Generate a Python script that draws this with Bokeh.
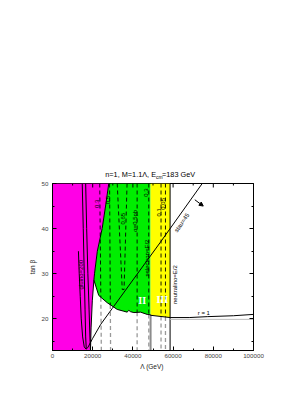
import math
import numpy as np
from bokeh.plotting import figure
from bokeh.layouts import column
from bokeh.models import (Range1d, LinearAxis, FixedTicker, Label, Arrow,
                          NormalHead, CustomJSTickFormatter)
from bokeh.embed import file_html
from bokeh.resources import INLINE

# ---------------- data ----------------
x_ticks = [0, 20000, 40000, 60000, 80000, 100000]
x_tick_labels = ["0", "20000", "40000", "60000", "80000", "100000"]
x_minor = [10000, 30000, 50000, 70000, 90000]
y_ticks = [20, 30, 40, 50]
y_minor = [15, 25, 35, 45]
x_lim = [0, 100000]
y_lim = [13, 50]

# excluded (magenta) region right edge
magenta_edge_x = [28000, 26400, 24700, 22300, 20900, 20600, 19800, 19200, 18900]
magenta_edge_y = [50, 45, 40, 35, 30, 28.6, 24, 18, 13]

# region II (green) lower edge
green_bottom_x = [20600, 23000, 27200, 32200, 35500, 37100, 38000, 38800, 40500, 43800, 47100, 48800]
green_bottom_y = [28.6, 25.2, 23.6, 22.1, 21.7, 21.5, 21.9, 21.6, 21.4, 21.5, 21.0, 20.9]

# region III (yellow) band
yellow_x = [48800, 58500]
yellow_bottom_y = [20.8, 20.3]

# r = 1 curve and lower line
r1_x = [58500, 68000, 77000, 90000, 100000]
r1_y = [20.3, 20.3, 20.5, 20.7, 21.0]
floor_x = [58500, 100000]
floor_y = [19.9, 19.9]

# solid contours
s1_x = [14800, 15300, 15800, 16200, 16500, 16800]
s1_y = [50, 40, 30, 22, 16, 13.4]
s2_x = [16500, 17000, 17600, 18200, 18700, 18900]
s2_y = [50, 40, 30, 22, 15, 13]
gluino_x = [12900, 13300, 13800, 14300, 15000, 15800, 16700, 17500]
gluino_y = [35, 30, 25, 20, 16, 13.8, 13.3, 13.6]
stau_x = [17500, 20000, 24000, 29700, 42100, 53700, 74500]
stau_y = [13.6, 15.7, 18.8, 22.3, 29.9, 37.0, 50]
selectron_x = [48800, 48800]
selectron_y = [13, 20.9]
neutralino_x = [58500, 58500]
neutralino_y = [13, 50]

# cross-section contours (dashed)
sig_lines_x = [[23500, 24300], [28400, 28900], [42100, 42100], [47900, 47900],
               [54000, 54000], [56200, 56200]]
sig_lines_y = [[50, 13], [50, 13], [50, 13], [50, 13], [50, 13], [50, 13]]
sig_v_x = [32200, 34700, 35600, 37100]
sig_v_y = [50, 26.5, 26.5, 50]
sig_labels = ["0.3", "0.5", "0.65", "σ=0.5pb", "0.3", "0.1", "0.05"]
sig_label_x = [22100, 27700, 34900, 40800, 46700, 52900, 55200]
sig_label_y = [45.5, 46.3, 42.2, 41.7, 48.0, 43.6, 45.5]

arrow_x = [70800, 75000]
arrow_y = [46.4, 45.0]

MAG = "#ff00e6"
GRN = "#00ee00"
YEL = "#ffff00"
FONT = "Liberation Sans"

W = 293
BL, BR = 52, 40
FRAME_H = 167
TITLE_H = 180

# ---------------- title strip ----------------
t = figure(width=W, height=TITLE_H, x_range=Range1d(*x_lim), y_range=Range1d(0, TITLE_H),
           min_border_left=BL, min_border_right=BR, min_border_top=0, min_border_bottom=0,
           toolbar_location=None, output_backend="svg", x_axis_location=None,
           y_axis_location=None, title=None)
t.outline_line_color = None
t.grid.visible = False
t.background_fill_color = "white"
t.border_fill_color = "white"

def tlab(txt, x, y, size, align, xo=0):
    t.add_layout(Label(x=x, y=y, text=txt, text_font=FONT, text_font_size=size,
                       text_color="black", text_align=align, text_baseline="middle",
                       x_offset=xo))

tlab("n=1, M=1.1Λ, E", 51500, 6, "7.3px", "right")
tlab("cm", 51500, 4, "5px", "left")
tlab("=183 GeV", 51500, 6, "7.3px", "left", xo=6)

# ---------------- main figure ----------------
p = figure(width=W, height=3 + FRAME_H + 35, x_range=Range1d(*x_lim), y_range=Range1d(*y_lim),
           output_backend="svg", toolbar_location=None, title=None,
           min_border_left=BL, min_border_right=BR, min_border_top=3,
           min_border_bottom=35)
p.grid.visible = False
p.outline_line_color = "black"
p.outline_line_width = 1
p.background_fill_color = "white"
p.border_fill_color = "white"

# magenta
mx = [0, 0] + magenta_edge_x
my = [y_lim[0], y_lim[1]] + magenta_edge_y
p.patch(mx, my, fill_color=MAG, line_color=None)

# green
up_x = [x for x, y in zip(magenta_edge_x, magenta_edge_y) if y >= green_bottom_y[0]]
up_y = [y for y in magenta_edge_y if y >= green_bottom_y[0]]
gx = list(reversed(up_x)) + [yellow_x[0], yellow_x[0]] + list(reversed(green_bottom_x))
gy = list(reversed(up_y)) + [y_lim[1], green_bottom_y[-1]] + list(reversed(green_bottom_y))
p.patch(gx, gy, fill_color=GRN, line_color=None)

# yellow
p.patch([yellow_x[0], yellow_x[0], yellow_x[1], yellow_x[1]],
        [yellow_bottom_y[0], y_lim[1], y_lim[1], yellow_bottom_y[1]],
        fill_color=YEL, line_color=None)

# dashed cross-section lines: black within colored area, gray below
bx = green_bottom_x + yellow_x
by = green_bottom_y + yellow_bottom_y
DASH = "4 3"
for lx, ly in zip(sig_lines_x, sig_lines_y):
    ysplit = float(np.interp(lx[1], bx, by))
    xsplit = float(np.interp(ysplit, [ly[1], ly[0]], [lx[1], lx[0]]))
    p.line([lx[0], xsplit], [ly[0], ysplit], line_color="black", line_width=0.9,
           line_dash=DASH)
    p.line([xsplit, lx[1]], [ysplit, ly[1]], line_color="#999999", line_width=1.3,
           line_dash=DASH)
p.line(sig_v_x, sig_v_y, line_color="black", line_width=0.9, line_dash=DASH)

# solid lines
p.line(selectron_x, selectron_y, line_color="#8c8c8c", line_width=2)
p.line(neutralino_x, neutralino_y, line_color="black", line_width=1)
p.line(magenta_edge_x, magenta_edge_y, line_color="black", line_width=1)
p.line(green_bottom_x + yellow_x, green_bottom_y + yellow_bottom_y,
       line_color="black", line_width=1)
p.line(r1_x, r1_y, line_color="black", line_width=1)
p.line(floor_x, floor_y, line_color="#bbbbbb", line_width=1)
p.line(s1_x, s1_y, line_color="black", line_width=1)
p.line(s2_x, s2_y, line_color="black", line_width=1)
p.line(gluino_x, gluino_y, line_color="black", line_width=1)
p.line(stau_x, stau_y, line_color="black", line_width=1)

p.add_layout(Arrow(end=NormalHead(size=4, fill_color="black", line_color="black"),
                   x_start=arrow_x[0], y_start=arrow_y[0],
                   x_end=arrow_x[1], y_end=arrow_y[1],
                   line_color="black", line_width=1))

# top-edge ticks (mirror of the bottom axis)
px_y = (y_lim[1] - y_lim[0]) / FRAME_H
p.segment(x0=x_ticks, y0=[y_lim[1]] * len(x_ticks), x1=x_ticks,
          y1=[y_lim[1] - 4 * px_y] * len(x_ticks), line_color="black", line_width=1)
p.segment(x0=x_minor, y0=[y_lim[1]] * len(x_minor), x1=x_minor,
          y1=[y_lim[1] - 2 * px_y] * len(x_minor), line_color="black", line_width=1)

def lab(txt, x, y, size="6px", angle=0.0, color="black", font=FONT, style="normal"):
    p.add_layout(Label(x=x, y=y, text=txt, text_font=font, text_font_size=size,
                       text_color=color, angle=angle, text_align="center",
                       text_baseline="middle", text_font_style=style))

for tx, x, y in zip(sig_labels, sig_label_x, sig_label_y):
    lab(tx, x, y, angle=math.pi / 2)

lab("selectron=E/2", 46900, 33.5, angle=math.pi / 2)
lab("neutralino=E/2", 60900, 27.6, angle=math.pi / 2)
lab("gluino=200", 14300, 29.8, angle=math.pi / 2)
lab("stau=45", 64300, 41.3, angle=math.radians(55))
lab("r = 1", 75300, 21.4)
lab("II", 44600, 24.0, size="10px", color="white", font="Liberation Serif", style="bold")
lab("III", 54600, 24.2, size="10px", color="white", font="Liberation Serif", style="bold")

# axes
def style_axis(ax, ticks, minor, labels=True, overrides=None):
    ax.ticker = FixedTicker(ticks=ticks, minor_ticks=minor)
    ax.major_tick_in = 4
    ax.major_tick_out = 0
    ax.minor_tick_in = 2
    ax.minor_tick_out = 0
    ax.axis_line_color = "black"
    ax.major_tick_line_color = "black"
    ax.minor_tick_line_color = "black"
    ax.major_label_text_font = FONT
    ax.major_label_text_font_size = "6.2px"
    ax.major_label_text_color = "#444444"
    ax.axis_label_text_font = FONT
    ax.axis_label_text_font_size = "6.5px"
    ax.axis_label_text_font_style = "normal"
    ax.axis_label_text_color = "#222222"
    if not labels:
        ax.formatter = CustomJSTickFormatter(code="return ''")
        ax.major_label_text_font_size = "0px"
        ax.major_label_standoff = 0
    elif overrides:
        ax.major_label_overrides = overrides

style_axis(p.xaxis[0], x_ticks, x_minor,
           overrides={tk: l for tk, l in zip(x_ticks, x_tick_labels)})
p.xaxis[0].major_label_standoff = 3
p.xaxis[0].axis_label = "Λ  (GeV)"
p.xaxis[0].axis_label_standoff = 2
style_axis(p.yaxis[0], y_ticks, y_minor)
p.yaxis[0].major_label_standoff = 4
p.yaxis[0].axis_label = "tan β"
p.yaxis[0].axis_label_standoff = 3

right = LinearAxis()
style_axis(right, y_ticks, y_minor, labels=False)
p.add_layout(right, "right")

layout = column(t, p, spacing=0)
open("out.html", "w").write(file_html(layout, INLINE))
